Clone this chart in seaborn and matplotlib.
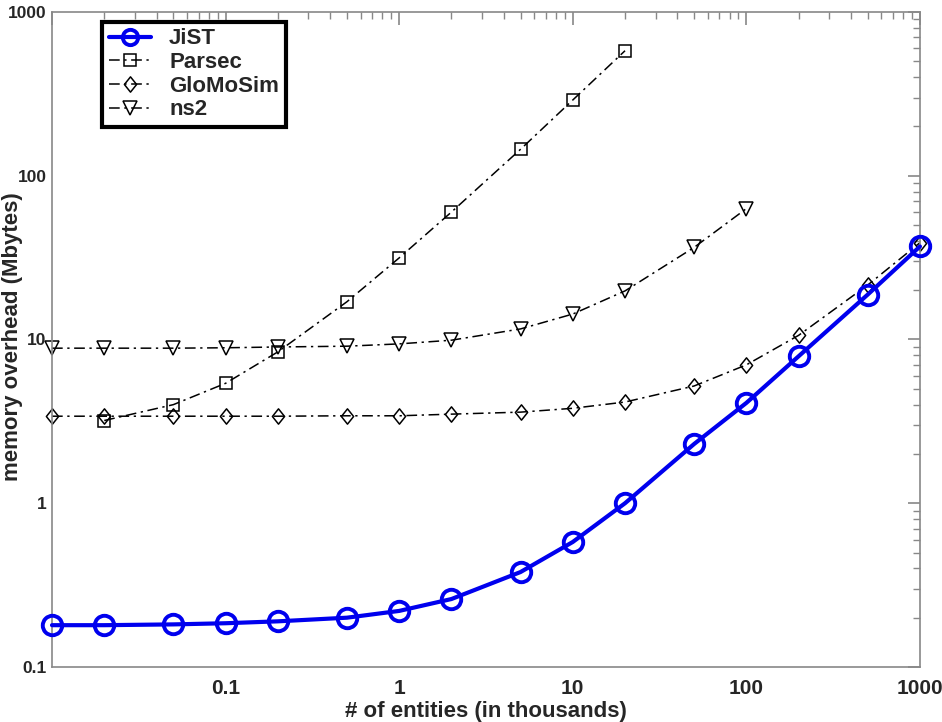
import matplotlib
matplotlib.use("Agg")
import matplotlib.pyplot as plt
import matplotlib.ticker as mticker
from matplotlib.path import Path
import seaborn as sns
import pandas as pd

entities = [0.01, 0.02, 0.05, 0.1, 0.2, 0.5, 1, 2, 5, 10, 20, 50, 100, 200, 500, 1000]
jist = [0.18, 0.18, 0.182, 0.185, 0.19, 0.2, 0.22, 0.26, 0.38, 0.58, 1.0, 2.3, 4.1, 7.9, 18.8, 37]
parsec_x = [0.02, 0.05, 0.1, 0.2, 0.5, 1, 2, 5, 10, 20]
parsec = [3.2, 4.0, 5.4, 8.4, 17, 31.5, 60, 145, 290, 580]
glomosim = [3.4, 3.4, 3.4, 3.4, 3.4, 3.42, 3.42, 3.5, 3.6, 3.8, 4.15, 5.2, 7.0, 10.6, 21.5, 39]
ns2_x = [0.01, 0.02, 0.05, 0.1, 0.2, 0.5, 1, 2, 5, 10, 20, 50, 100]
ns2 = [8.85, 8.85, 8.85, 8.9, 9.0, 9.1, 9.4, 9.9, 11.6, 14.3, 19.8, 36.5, 63]

sns.set_style("white")
FAM = ['Liberation Sans', 'DejaVu Sans']
plt.rcParams['font.family'] = FAM
plt.rcParams['font.weight'] = 'bold'

fig = plt.figure(figsize=(9.42, 7.22), dpi=100)
ax = fig.add_axes([0.0552, 0.0762, 0.9214, 0.9072])

dfj = pd.DataFrame({"x": entities, "y": jist})
dfp = pd.DataFrame({"x": parsec_x, "y": parsec})
dfg = pd.DataFrame({"x": entities, "y": glomosim})
dfn = pd.DataFrame({"x": ns2_x, "y": ns2})

diamond = Path([(0, 1), (0.8, 0), (0, -1), (-0.8, 0), (0, 1)],
               [Path.MOVETO, Path.LINETO, Path.LINETO, Path.LINETO, Path.CLOSEPOLY])

dash = (0, (7, 3, 1.5, 3))
common = dict(ax=ax, color="black", lw=1.1, markerfacecolor="none",
              markeredgecolor="black", markeredgewidth=1.1, linestyle=dash, clip_on=False)
sns.lineplot(data=dfj, x="x", y="y", ax=ax, color="#0000ee", lw=3, marker="o",
             markersize=14, markerfacecolor="none", markeredgecolor="#0000ee",
             markeredgewidth=2.8, label="JiST", zorder=5, clip_on=False)
sns.lineplot(data=dfp, x="x", y="y", marker="s", markersize=9, label="Parsec", **common)
sns.lineplot(data=dfg, x="x", y="y", marker=diamond, markersize=11, label="GloMoSim", **common)
sns.lineplot(data=dfn, x="x", y="y", marker="v", markersize=10, label="ns2", **common)

ax.set_xscale("log")
ax.set_yscale("log")
ax.set_xlim(0.01, 1000)
ax.set_ylim(0.1, 1000)

ax.xaxis.set_major_locator(mticker.FixedLocator([0.01, 0.1, 1, 10, 100, 1000]))
ax.set_xticklabels(["", "0.1", "1", "10", "100", "1000"])
ax.yaxis.set_major_locator(mticker.FixedLocator([0.1, 1, 10, 100, 1000]))
ax.set_yticklabels(["0.1", "1", "10", "100", "1000"])
ax.xaxis.set_minor_locator(mticker.LogLocator(base=10, subs=range(2, 10), numticks=20))
ax.yaxis.set_minor_locator(mticker.LogLocator(base=10, subs=range(2, 10), numticks=20))
ax.xaxis.set_minor_formatter(mticker.NullFormatter())
ax.yaxis.set_minor_formatter(mticker.NullFormatter())

ax.tick_params(which="both", direction="in", top=True, right=True, color="#888888")
ax.tick_params(axis="x", pad=9, labelsize=15)
ax.tick_params(axis="y", pad=4, labelsize=12.5)
ax.tick_params(which="major", length=9, width=1.2)
ax.tick_params(which="minor", length=5, width=1.0)
for lab in ax.get_xticklabels() + ax.get_yticklabels():
    lab.set_fontweight("bold")
for s in ax.spines.values():
    s.set_color("#888888")
    s.set_linewidth(1.2)

ax.set_xlabel("# of entities (in thousands)", fontsize=16, fontweight="bold", labelpad=2)
ax.set_ylabel("memory overhead (Mbytes)", fontsize=16, fontweight="bold")
ax.yaxis.set_label_coords(-0.033, 0.505)

leg = ax.legend(loc="upper left", bbox_to_anchor=(0.058, 0.985), fontsize=16,
                frameon=True, fancybox=False, borderpad=0.3, labelspacing=0.12,
                handlelength=1.9, handletextpad=0.8, borderaxespad=0.0,
                prop={"weight": "bold", "size": 16, "family": FAM})
leg.get_frame().set_edgecolor("black")
leg.get_frame().set_linewidth(3)
leg.get_frame().set_alpha(1)
leg.legend_handles[0].set_markersize(11)

fig.savefig("out.png", dpi=100)
